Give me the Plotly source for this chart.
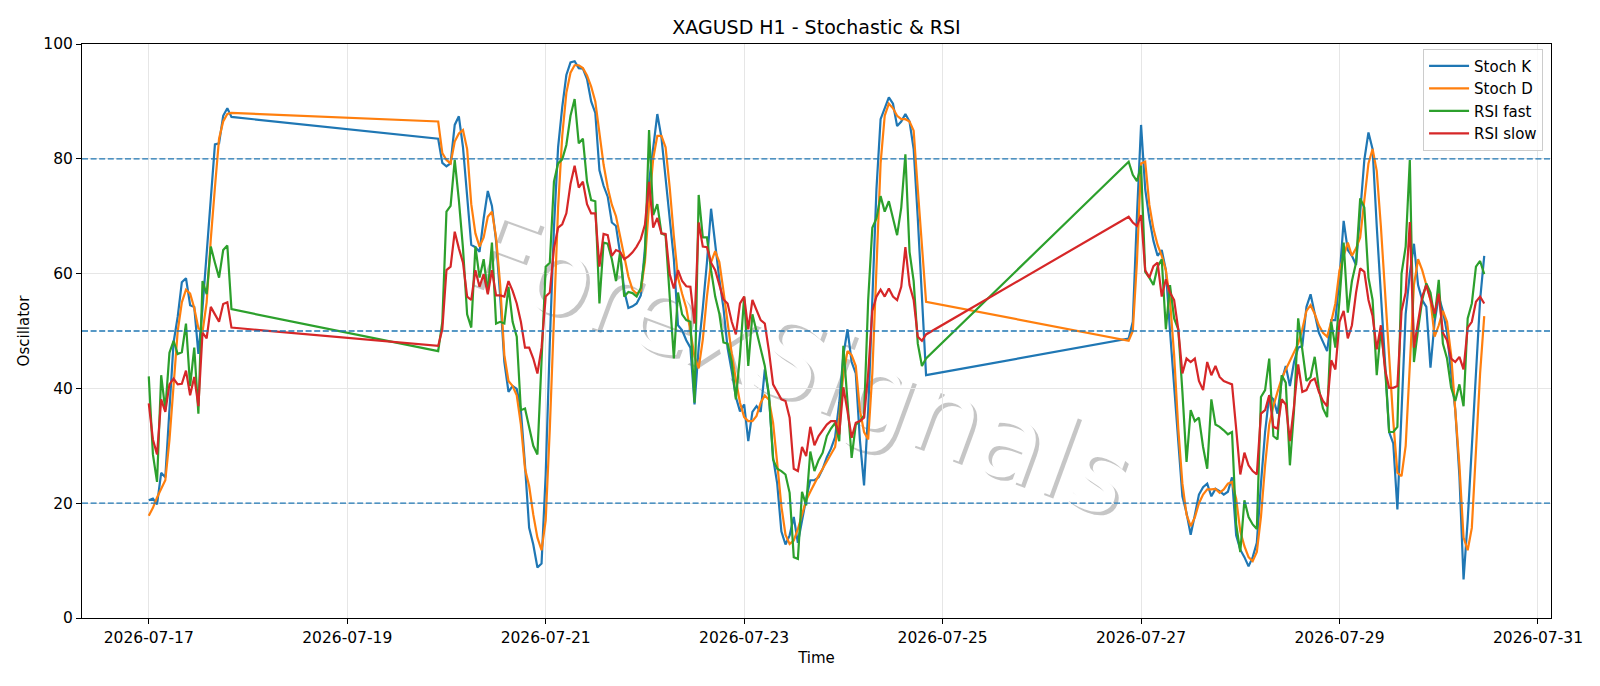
import pandas as pd
import plotly.graph_objects as go

# ---------------- data (hourly, three trading blocks) ----------------
seg_starts = ["2026-07-17 00:00", "2026-07-19 22:00", "2026-07-26 21:00"]

stoch_k_1 = [20.5, 20.8, 19.8, 25.3, 24.5, 36, 48, 52.5, 58.5, 59.2, 54.5, 54.2, 46, 54, 63, 73,
             82.5, 82.7, 87.5, 88.8, 87.3]
stoch_d_1 = [17.8, 19.2, 21, 22.5, 24, 31, 41, 50, 55, 57.2, 56.5, 54, 50.5, 49.8, 55, 66,
             75, 83.5, 86.5, 87.8, 88]
rsi_fast_1 = [42.1, 28.5, 23.7, 42.3, 36.2, 46.2, 48.3, 46, 46.3, 51.3, 40.4, 47.1, 35.6, 58.7,
              56.4, 64.7, 61.9, 59.3, 64.1, 64.9, 53.8]
rsi_slow_1 = [37.4, 31.1, 28.5, 38.1, 35.9, 40.7, 41.7, 40.7, 40.8, 43.1, 38.8, 42, 36.9, 49.7,
              48.7, 54.2, 52.9, 51.6, 54.7, 55, 50.6]

stoch_k_2 = [83.5, 79.3, 78.7, 79.2, 85.9, 87.4, 82, 73, 65, 64.6, 63.8, 69.6, 74.4, 71.8, 65.7, 56,
             44.6, 39.4, 40.4, 39.9, 36.2, 26.6, 15.7, 12.8, 8.8, 9.5, 25, 48, 68, 82,
             89, 94.6, 96.8, 97, 95.8, 95.7, 93.9, 90, 88, 78, 75.3, 73.4, 68.9, 68.3, 63.5, 57,
             54, 54.3, 54.8, 56.2, 64.4, 76, 82.4, 87.8, 83.7, 76.6, 69.6, 62.5, 51, 50.1,
             48.4, 47.1, 37.2, 47.1, 54, 61.9, 71.3, 64.7, 59, 54, 47, 43, 38.5, 36, 37.2,
             30.8, 35.9, 36.9, 35.9, 43.3, 38.8, 27.9, 23.4, 15.1, 12.8, 14.4, 17.6, 13.1, 17, 20.8,
             24, 24, 24.5, 26, 28, 29.5, 31.5, 37.5, 45.8, 50.3, 44.6, 42.6, 31, 23.1, 36,
             55, 74.7, 86.9, 88.9, 90.7, 89.6, 85.7, 86.5, 87.8, 86.5, 81.7, 69.6, 55.4, 42.3]
stoch_d_2 = [86.5, 81, 79.8, 79.2, 83, 84.4, 85, 81.7, 72.1, 67, 64.7, 66.3, 69.9, 70.8, 66.3, 58,
             45.8, 41.3, 40.4, 38.8, 33.7, 26, 23, 18, 14, 11.8, 17, 33, 52, 71.5,
             84, 91.5, 95, 96.3, 96.3, 95.8, 94.5, 92.6, 90, 84, 79, 75, 72, 70, 66.5, 63,
             59.5, 57.2, 56.5, 57, 62, 72, 80, 84, 84, 82, 75, 66.5, 59.3, 56.5,
             54, 50, 45.5, 43.5, 48.5, 56, 62, 63.9, 62, 57, 51, 46, 41.5, 37.5, 35,
             34.3, 34.3, 35.2, 37.5, 38.8, 38, 34, 27, 19.5, 14.5, 12.9, 13.5, 15.5, 18, 20.5,
             22, 23.5, 24.8, 26, 27.2, 28.5, 29.8, 34.9, 42.6, 46.5, 45.8, 43.9, 36.2, 32.4, 31.1,
             42.6, 61.9, 79.2, 87.5, 89.6, 88.8, 87.5, 86.9, 86.9, 86.5, 84.9, 74.7, 65, 55.1]
rsi_fast_2 = [46.5, 51.6, 70.8, 71.8, 79.8, 72.8, 64.4, 52.9, 50.6, 64.7, 59.3, 62.5, 56.7, 65.4, 51.3, 51.6,
              51.3, 57.7, 51.6, 49, 36.2, 36.5, 33, 30, 28.5, 45, 61.2, 61.9, 76, 79.2,
              79.9, 82.4, 87.5, 90.4, 82.7, 83.5, 76, 72.8, 72.6, 54.8, 65.4, 65.2, 62.5, 58.7, 63.8, 56,
              56.8, 56.6, 56, 57.5, 63, 85, 70.2, 72.1, 67, 66.7, 55.4, 45.2, 56.7, 52.9,
              51.9, 51.6, 37.5, 73.7, 66.3, 66.3, 60.6, 56, 53, 48, 47.8, 44.6, 38.1, 45.8, 56,
              43.9, 52.9, 49.7, 47.1, 43.9, 38.8, 27.6, 26, 25.6, 25, 21.8, 10.6, 10.3, 22, 19.6,
              29, 25.6, 27.5, 28.8, 31.7, 33, 34, 30.8, 47.4, 38, 27.9, 33.7, 34.3, 35.3, 55.4,
              68, 69.6, 73.5, 70.8, 72.6, 69.6, 66.7, 71.5, 80.8, 63.8, 58.7, 47.8, 43.9, 45.2]
rsi_slow_2 = [47.4, 50.3, 60.6, 61.2, 67.3, 64.4, 61.9, 56, 55.4, 60.6, 57.7, 59.9, 56.4, 60.6, 56.2, 56.2,
              56, 58.7, 57, 54.8, 51.6, 47.1, 47.1, 45.2, 42.6, 47.1, 56, 56.7, 64.4, 68,
              68.6, 70.5, 75.6, 78.8, 75, 76, 72.1, 70.5, 70.5, 61.2, 66.9, 66.7, 63.1, 64.1, 63.8, 62.5,
              63, 63.7, 64.7, 66, 68.5, 76, 68, 69.7, 67, 66.9, 59.9, 57.4, 60.6, 58.7,
              57.8, 57.7, 51.3, 68.9, 64.7, 64.6, 61.9, 60.6, 58, 55.5, 54.8, 51.6, 49.4, 54.8, 56,
              50.3, 55.4, 53.5, 51.9, 51.3, 46.5, 40.7, 39.4, 38.1, 37.8, 34.9, 26, 25.6, 29.8, 28.2,
              33.3, 30.1, 31.7, 32.7, 33.7, 34.3, 34.3, 32, 40.2, 36, 31.4, 34, 34.3, 34.9, 42.6,
              53.5, 56, 57.2, 56, 57.4, 56, 55.4, 57.7, 64.6, 58, 55.4, 49, 48.3, 49.4]

stoch_k_3 = [48.7, 51.6, 70, 85.9, 74.7, 69.6, 65.7, 63.1, 64.1, 60.6, 50, 40, 30, 21.2, 18.3, 14.5,
             17.9, 21.5, 22.8, 23.4, 21.2, 22.5, 22.1, 21.5, 22, 24.5, 14.4, 11.9, 10.6, 9, 10.6,
             13.1, 23.4, 32.4, 38.8, 38.1, 35.6, 41.3, 43.9, 40.4, 44.6, 47.1, 47.4, 54.2, 56.4,
             52.9, 49.7, 48.1, 46.5, 51.9, 51.9, 59.3, 69.2, 64.1, 63.1, 61.5, 71.5, 79.8, 84.6,
             81.7, 68.3, 55.4, 44.6, 32.4, 30.4, 18.9, 36.2, 53, 60, 65.2, 58, 55.4, 54.2, 43.6,
             51.6, 56, 53.5, 49.7, 42.6, 36.2, 24.7, 6.7, 17, 29.8, 42.6, 55.4, 63.1]
stoch_d_3 = [48.3, 50, 62, 79.2, 79.5, 72, 67.8, 65, 63.1, 60.6, 55.4, 45.8, 33, 23.4, 18, 16,
             17.5, 20, 21.5, 22.4, 22.4, 22.5, 21.8, 22.4, 23.4, 23.7, 20.8, 15.1, 12.5, 10.6, 9.9,
             11.5, 17.6, 26.6, 33.7, 36.9, 39.4, 41.7, 43.3, 44.9, 46.5, 47.8, 50.3, 53.5, 54.5,
             53, 51, 49.7, 49, 51.6, 54.8, 60.6, 63.1, 65.4, 63.1, 64.4, 66.3, 73.4, 79.2,
             81.7, 77.9, 68.3, 56.7, 45.2, 34.3, 25.3, 24.7, 30, 45, 58, 62.5, 60.6, 58, 55.4,
             49, 51, 53.5, 51.6, 45.8, 36.2, 26.6, 14, 11.8, 15.7, 29.8, 42.6, 52.6]
rsi_fast_3 = [79.5, 77.2, 76.1, 78.8, 60.3, 59.3, 58, 61.2, 62.5, 50.3, 58, 52.2, 50.3, 39.4, 27.2, 36.2,
              34.3, 34.9, 29.8, 26, 38.1, 33.7, 33.3, 32.7, 32, 32.4, 16.3, 11.5, 20.5, 17.6, 16.3,
              15.5, 38.5, 39.7, 45.2, 31.7, 31.1, 42.3, 41, 26.6, 36.2, 52.2, 46.5, 41.3, 42,
              45.5, 40, 36.5, 35, 51.6, 47.1, 55.4, 65.4, 53.2, 58.7, 61.9, 73.1, 71.5, 59.3,
              55.4, 42.3, 50.3, 43.9, 32.4, 32.4, 33.3, 60, 64.7, 79.8, 44.6, 50.3, 55.4, 58.3, 56.7,
              52.2, 58.9, 47.8, 45.2, 40.1, 37.8, 40.7, 36.9, 52.2, 54.8, 61.2, 62.2, 59.9]
rsi_slow_3 = [69.9, 68.9, 68.3, 70.2, 60.6, 59.3, 61.3, 61.9, 56, 59, 56.7, 55.4, 50.3, 42.6, 45.2, 44.6,
              45.2, 41.3, 39.7, 44.6, 42.3, 43.9, 42, 41.3, 41, 40.7, 33, 25, 28.8, 26.6, 25.6,
              25, 35.6, 36.2, 38.8, 33.3, 33, 38.1, 37.2, 30.8, 36.9, 44.2, 39.4, 39.7, 41.3,
              41.7, 39.4, 37.8, 36.9, 44.9, 43.3, 51.6, 53.5, 48.7, 51, 56.7, 60.9, 60.3, 55.4,
              52.6, 46.8, 51, 43.3, 40.1, 40.1, 40.4, 53.5, 56.7, 69, 47.1, 51.6, 56, 58, 55.4,
              53, 56.5, 49.7, 48.4, 45.2, 44.6, 45.5, 43.3, 50.6, 51.6, 55.1, 56, 54.8]

series = [
    ("Stoch K", "#1f77b4", [stoch_k_1, stoch_k_2, stoch_k_3]),
    ("Stoch D", "#ff7f0e", [stoch_d_1, stoch_d_2, stoch_d_3]),
    ("RSI fast", "#2ca02c", [rsi_fast_1, rsi_fast_2, rsi_fast_3]),
    ("RSI slow", "#d62728", [rsi_slow_1, rsi_slow_2, rsi_slow_3]),
]
levels = [20, 50, 80]
x_ticks = ["2026-07-17", "2026-07-19", "2026-07-21", "2026-07-23",
           "2026-07-25", "2026-07-27", "2026-07-29", "2026-07-31"]
watermark = "ForexSignals"

# ---------------- figure ----------------
FONT = "DejaVu Sans"
W, H = 1600, 686
ML, MR, MT, MB = 82, 49, 44, 68
PW, PH = W - ML - MR, H - MT - MB

fig = go.Figure()
all_t = []
for name, color, segs in series:
    xs, ys = [], []
    for start, vals in zip(seg_starts, segs):
        t = pd.date_range(start, periods=len(vals), freq="h")
        xs.extend(list(t))
        ys.extend(vals)
    all_t.extend(xs)
    fig.add_trace(go.Scatter(x=xs, y=ys, mode="lines", name=name,
                             line=dict(color=color, width=2.2)))

tmin, tmax = min(all_t), max(all_t)
pad = (tmax - tmin) * 0.05
xr = [tmin - pad, tmax + pad]

for lv in levels:
    fig.add_shape(type="line", xref="paper", x0=0, x1=1, yref="y", y0=lv, y1=lv,
                  line=dict(color="#1f77b4", width=1.3, dash="6px,2.6px"), layer="above")

# watermark drawn beneath the traces: grey drop shadow, then white text
def px_to_paper(px, py):
    return (px - ML) / PW, 1 - (py - MT) / PH

wx0, wy0 = px_to_paper(465, 232)
wx1, wy1 = px_to_paper(1140, 479)
for dx, dy, col in [(3.5, 3.5, "rgba(160,160,160,0.6)"), (0, 0, "white")]:
    fig.add_shape(type="line", xref="paper", yref="paper",
                  x0=wx0 + dx / PW, y0=wy0 - dy / PH, x1=wx1 + dx / PW, y1=wy1 - dy / PH,
                  line=dict(width=0, color="rgba(0,0,0,0)"), layer="below",
                  label=dict(text=watermark, textposition="middle",
                             yanchor="middle", padding=0,
                             font=dict(family=FONT, size=110, color=col)))

fig.update_layout(
    width=W, height=H,
    margin=dict(l=ML, r=MR, t=MT, b=MB),
    paper_bgcolor="white", plot_bgcolor="white",
    font=dict(family=FONT, size=15, color="black"),
    title=dict(text="XAGUSD H1 - Stochastic & RSI", x=0.5, xref="paper", xanchor="center",
               y=1 - 27 / H, yref="container", yanchor="middle",
               font=dict(family=FONT, size=19, color="black")),
    showlegend=True,
    legend=dict(x=0.9946, y=0.992, xanchor="right", yanchor="top",
                bgcolor="rgba(255,255,255,0.8)", bordercolor="#cccccc", borderwidth=1,
                font=dict(family=FONT, size=15), tracegroupgap=0, itemwidth=40),
)
fig.update_xaxes(
    type="date", range=xr, tickvals=x_ticks, ticktext=x_ticks,
    showgrid=True, gridcolor="#e6e6e6", gridwidth=1,
    showline=True, linecolor="black", linewidth=1, mirror=True,
    ticks="outside", ticklen=5, tickcolor="black", zeroline=False,
    title=dict(text="Time", font=dict(family=FONT, size=15), standoff=6),
    tickfont=dict(family=FONT, size=15.5),
)
fig.update_yaxes(
    range=[0, 100], tickvals=[0, 20, 40, 60, 80, 100],
    showgrid=True, gridcolor="#e6e6e6", gridwidth=1,
    showline=True, linecolor="black", linewidth=1, mirror=True,
    ticks="outside", ticklen=5, tickcolor="black", zeroline=False,
    title=dict(text="Oscillator", font=dict(family=FONT, size=15), standoff=10),
    tickfont=dict(family=FONT, size=15.5),
)

fig.write_html("out.html")
